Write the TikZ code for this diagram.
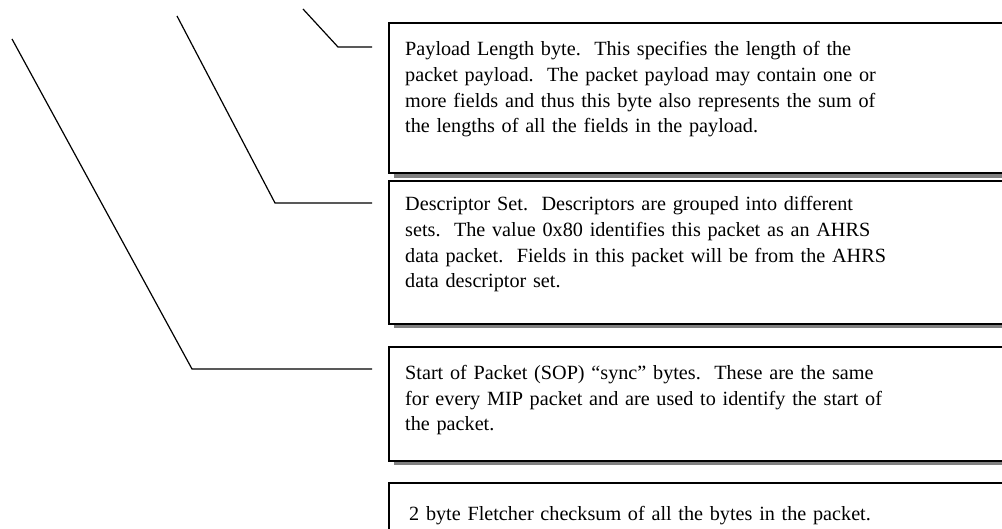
\documentclass[tikz,border=0pt]{standalone}
\usepackage{fontspec}
\setmainfont{Liberation Serif}
\definecolor{shadowgray}{HTML}{808080}
\begin{document}
\begin{tikzpicture}[x=1pt,y=-1pt,
  box/.style={draw=black, line width=1.8pt, fill=white, inner sep=0pt, anchor=north west, minimum width=640pt},
  shadowbar/.style={fill=shadowgray},
  lead/.style={draw=black, line width=1.2pt},
  txt/.style={inner sep=0pt, anchor=base west, align=left, text width=590pt, font=\fontsize{20.2}{25.6}\selectfont}]
\clip (0,0) rectangle (1002,529);
\fill[white] (0,0) rectangle (1002,529);
% shadows
\fill[shadowbar] (394,172) rectangle (1010,178);
\fill[shadowbar] (394,323) rectangle (1010,328);
\fill[shadowbar] (394,460) rectangle (1010,465);
% boxes
\node[box, minimum height=150pt] (b1) at (388,22) {};
\node[box, minimum height=143pt] (b2) at (388,180) {};
\node[box, minimum height=114pt] (b3) at (388,346) {};
\node[box, minimum height=80pt] (b4) at (388,482) {};
% texts
\node[txt] (t1) at (405,56) {Payload Length byte.\ \ This specifies the length of the\\packet payload.\ \ The packet payload may contain one or\\more fields and thus this byte also represents the sum of\\the lengths of all the fields in the payload.};
\node[txt] (t2) at (405,211) {Descriptor Set.\ \ Descriptors are grouped into different\\sets.\ \ The value 0x80 identifies this packet as an AHRS\\data packet.\ \ Fields in this packet will be from the AHRS\\data descriptor set.};
\node[txt] (t3) at (405,379.5) {Start of Packet (SOP) ``sync'' bytes.\ \ These are the same\\for every MIP packet and are used to identify the start of\\the packet.};
\node[txt] (t4) at (409,520) {2 byte Fletcher checksum of all the bytes in the packet.};
% leader lines
\coordinate (s1) at (303,9);
\coordinate (k1) at (338,47);
\coordinate (e1) at (372,47);
\coordinate (s2) at (177,16);
\coordinate (k2) at (275,203);
\coordinate (e2) at (372,203);
\coordinate (s3) at (12,39);
\coordinate (k3) at (192,369);
\coordinate (e3) at (372,369);
\draw[lead] (s1) -- (k1) -- (e1);
\draw[lead] (s2) -- (k2) -- (e2);
\draw[lead] (s3) -- (k3) -- (e3);
\end{tikzpicture}
\end{document}
